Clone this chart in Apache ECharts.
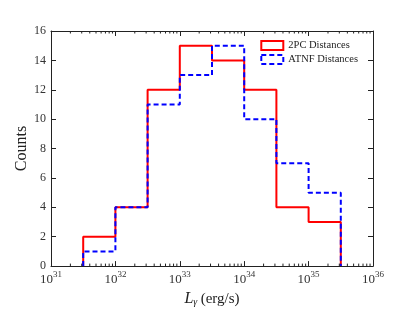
<!DOCTYPE html>
<html>
<head>
<meta charset="utf-8">
<script src="https://cdn.jsdelivr.net/npm/echarts@6/dist/echarts.min.js"></script>
<style>html,body{margin:0;padding:0;background:#fff}#c{width:415px;height:312px}</style>
</head>
<body>
<div id="c"></div>
<script>
// Bin edges as log10 exponents
const binEdgeExponents = [31.5, 32, 32.5, 33, 33.5, 34, 34.5, 35, 35.5];
const counts2PC  = [2, 4, 12, 15, 14, 12, 4, 3];
const countsATNF = [1, 4, 11, 13, 15, 10, 7, 5];
const seriesNames = ['2PC Distances', 'ATNF Distances'];
const xTickExponents = [31, 32, 33, 34, 35, 36];
const yTicks = [0, 2, 4, 6, 8, 10, 12, 14, 16];
const minorTickMultipliers = [2, 3, 4, 5, 6, 7, 8, 9];

const FONT = 'Liberation Serif';
const edges = binEdgeExponents.map(e => Math.pow(10, e));
function stepPoints(counts) {
  const pts = [[edges[0], 0]];
  counts.forEach((c, i) => { pts.push([edges[i], c]); pts.push([edges[i + 1], c]); });
  pts.push([edges[edges.length - 1], 0]);
  return pts;
}
const minorTicks = [];
xTickExponents.slice(0, -1).forEach(e => minorTickMultipliers.forEach(m => minorTicks.push([m * Math.pow(10, e)])));

const xMin = Math.pow(10, xTickExponents[0]);
const xMax = Math.pow(10, xTickExponents[xTickExponents.length - 1]);
const yMin = yTicks[0], yMax = yTicks[yTicks.length - 1];
const axisColor = '#222';

const chart = echarts.init(document.getElementById('c'), null, {renderer: 'canvas'});
chart.setOption({
  animation: false,
  backgroundColor: '#fff',
  grid: {left: 51, right: 42, top: 31, bottom: 42},
  legend: {
    right: 52, top: 35, orient: 'vertical', itemGap: 3, itemWidth: 22, itemHeight: 9,
    textStyle: {fontFamily: FONT, fontSize: 10.5, color: '#222'},
    data: [
      {name: seriesNames[0], icon: 'rect', itemStyle: {color: 'rgba(0,0,0,0)', borderColor: '#ff0000', borderWidth: 2}},
      {name: seriesNames[1], icon: 'rect', itemStyle: {color: 'rgba(0,0,0,0)', borderColor: '#0000ff', borderWidth: 2, borderType: [5, 3]}}
    ]
  },
  xAxis: [{
    type: 'log', logBase: 10, min: xMin, max: xMax, position: 'bottom',
    name: '{i|L}{sub|γ} {n|(erg/s)}', nameLocation: 'middle', nameGap: 22,
    nameTextStyle: {rich: {
      i: {fontFamily: FONT, fontStyle: 'italic', fontSize: 16, color: '#222', verticalAlign: 'bottom'},
      sub: {fontFamily: FONT, fontStyle: 'italic', fontSize: 10, color: '#222', padding: [7, 0, 0, 0], verticalAlign: 'bottom'},
      n: {fontFamily: FONT, fontSize: 15, color: '#222', verticalAlign: 'bottom'}
    }},
    axisLine: {show: true, onZero: false, lineStyle: {color: axisColor, width: 1}},
    axisTick: {show: true, inside: true, length: 5, lineStyle: {color: axisColor}},
    splitLine: {show: false},
    axisLabel: {
      margin: 4,
      formatter: v => '{b|10}{s|' + Math.round(Math.log10(v)) + '}',
      rich: {
        b: {fontFamily: FONT, fontSize: 13, color: '#333', verticalAlign: 'bottom'},
        s: {fontFamily: FONT, fontSize: 9, color: '#333', verticalAlign: 'top', padding: [0, 0, 7, 0]}
      }
    }
  }, {
    type: 'log', logBase: 10, min: xMin, max: xMax, position: 'top',
    axisLine: {show: true, onZero: false, lineStyle: {color: axisColor, width: 1}},
    axisTick: {show: true, inside: true, length: 5, lineStyle: {color: axisColor}},
    axisLabel: {show: false}, splitLine: {show: false}
  }],
  yAxis: [{
    type: 'value', min: yMin, max: yMax, interval: 2, position: 'left',
    name: 'Counts', nameLocation: 'middle', nameGap: 21, nameRotate: 90, nameMoveOverlap: false,
    nameTextStyle: {fontFamily: FONT, fontSize: 16, color: '#222'},
    axisLine: {show: true, onZero: false, lineStyle: {color: axisColor, width: 1}},
    axisTick: {show: true, inside: true, length: 5, lineStyle: {color: axisColor}},
    splitLine: {show: false},
    axisLabel: {margin: 5, fontFamily: FONT, fontSize: 12, color: '#333'}
  }, {
    type: 'value', min: yMin, max: yMax, interval: 2, position: 'right',
    axisLine: {show: true, onZero: false, lineStyle: {color: axisColor, width: 1}},
    axisTick: {show: true, inside: true, length: 5, lineStyle: {color: axisColor}},
    axisLabel: {show: false}, splitLine: {show: false}
  }],
  series: [{
    name: seriesNames[0], type: 'line', data: stepPoints(counts2PC),
    showSymbol: false, symbol: 'none', color: '#ff0000',
    lineStyle: {color: '#ff0000', width: 2}, z: 3
  }, {
    name: seriesNames[1], type: 'line', data: stepPoints(countsATNF),
    showSymbol: false, symbol: 'none', color: '#0000ff',
    lineStyle: {color: '#0000ff', width: 2, type: [5, 3]}, z: 4
  }, {
    name: 'minor', type: 'custom', data: minorTicks, silent: true, clip: false, z: 5,
    renderItem: (params, api) => {
      const x = api.value(0);
      const pb = api.coord([x, yMin]);
      const pt = api.coord([x, yMax]);
      return {type: 'group', children: [
        {type: 'line', shape: {x1: pb[0], y1: pb[1], x2: pb[0], y2: pb[1] - 2.5}, style: {stroke: axisColor, lineWidth: 1}},
        {type: 'line', shape: {x1: pt[0], y1: pt[1], x2: pt[0], y2: pt[1] + 2.5}, style: {stroke: axisColor, lineWidth: 1}}
      ]};
    }
  }]
});
</script>
</body>
</html>
